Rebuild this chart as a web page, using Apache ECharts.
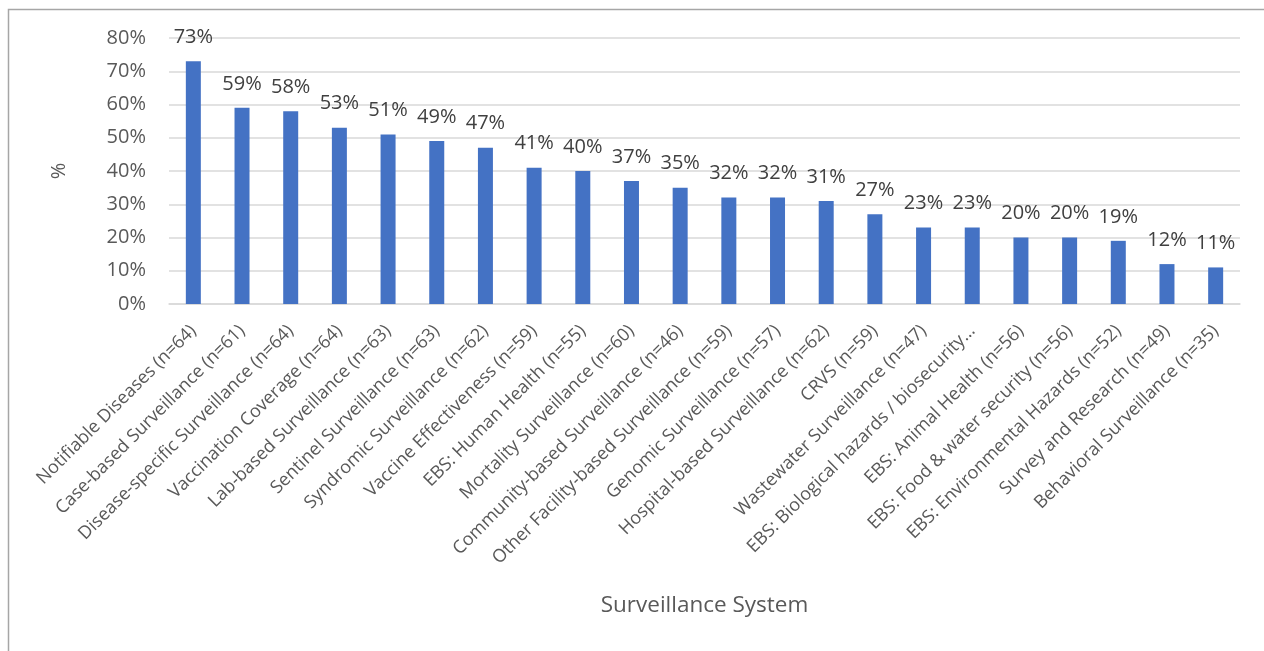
<!DOCTYPE html>
<html>
<head>
<meta charset="utf-8">
<script src="https://cdn.jsdelivr.net/npm/echarts@6/dist/echarts.min.js"></script>
<style>
  html, body { margin: 0; padding: 0; background: #fff; }
  #chart { width: 1264px; height: 651px; }
</style>
</head>
<body>
<div id="chart"></div>
<script>
// Surveillance systems (sample size in brackets)
const categories = [
  'Notifiable Diseases (n=64)',
  'Case-based Surveillance (n=61)',
  'Disease-specific Surveillance (n=64)',
  'Vaccination Coverage (n=64)',
  'Lab-based Surveillance (n=63)',
  'Sentinel Surveillance (n=63)',
  'Syndromic Surveillance (n=62)',
  'Vaccine Effectiveness (n=59)',
  'EBS: Human Health (n=55)',
  'Mortality Surveillance (n=60)',
  'Community-based Surveillance (n=46)',
  'Other Facility-based Surveillance (n=59)',
  'Genomic Surveillance (n=57)',
  'Hospital-based Surveillance (n=62)',
  'CRVS (n=59)',
  'Wastewater Surveillance (n=47)',
  'EBS: Biological hazards / biosecurity…',
  'EBS: Animal Health (n=56)',
  'EBS: Food & water security (n=56)',
  'EBS: Environmental Hazards (n=52)',
  'Survey and Research (n=49)',
  'Behavioral Surveillance (n=35)'
];

// Share of respondents, in percent
const percentValues = [73, 59, 58, 53, 51, 49, 47, 41, 40, 37, 35, 32, 32, 31, 27, 23, 23, 20, 20, 19, 12, 11];

const yTicks = [0, 10, 20, 30, 40, 50, 60, 70, 80];

const FONT = '"Open Sans", "DejaVu Sans", sans-serif';
const TEXT = '#595959';

const chart = echarts.init(document.getElementById('chart'));
chart.setOption({
  animation: false,
  backgroundColor: '#ffffff',
  graphic: [{
    type: 'rect',
    shape: { x: 8.5, y: 9.5, width: 1300, height: 700 },
    style: { fill: 'none', stroke: '#a6a6a6', lineWidth: 1.5 },
    silent: true
  }],
  grid: { left: 169, right: 24, top: 38, bottom: 347 },
  xAxis: {
    type: 'category',
    data: categories,
    name: 'Surveillance System',
    nameLocation: 'middle',
    nameGap: 290,
    nameTextStyle: { fontFamily: FONT, fontSize: 22.5, color: TEXT },
    axisLine: { lineStyle: { color: '#d9d9d9', width: 1.5 } },
    axisTick: { show: false },
    axisLabel: {
      rotate: 45,
      interval: 0,
      margin: 24,
      fontFamily: FONT,
      fontSize: 18,
      color: TEXT
    }
  },
  yAxis: {
    type: 'value',
    min: yTicks[0],
    max: yTicks[yTicks.length - 1],
    interval: 10,
    name: '%',
    nameLocation: 'middle',
    nameGap: 100,
    nameRotate: 90,
    nameTextStyle: { fontFamily: FONT, fontSize: 20, color: TEXT },
    axisLine: { show: false },
    axisTick: { show: false },
    splitLine: { lineStyle: { color: '#d9d9d9', width: 1.5 } },
    axisLabel: {
      formatter: v => v + '%',
      margin: 23,
      fontFamily: FONT,
      fontSize: 20,
      color: TEXT
    }
  },
  series: [{
    type: 'bar',
    data: percentValues,
    barWidth: 15,
    itemStyle: { color: '#4472c4' },
    label: {
      show: true,
      position: 'top',
      distance: 14,
      formatter: p => p.value + '%',
      fontFamily: FONT,
      fontSize: 20,
      color: '#404040'
    }
  }]
});
</script>
</body>
</html>
